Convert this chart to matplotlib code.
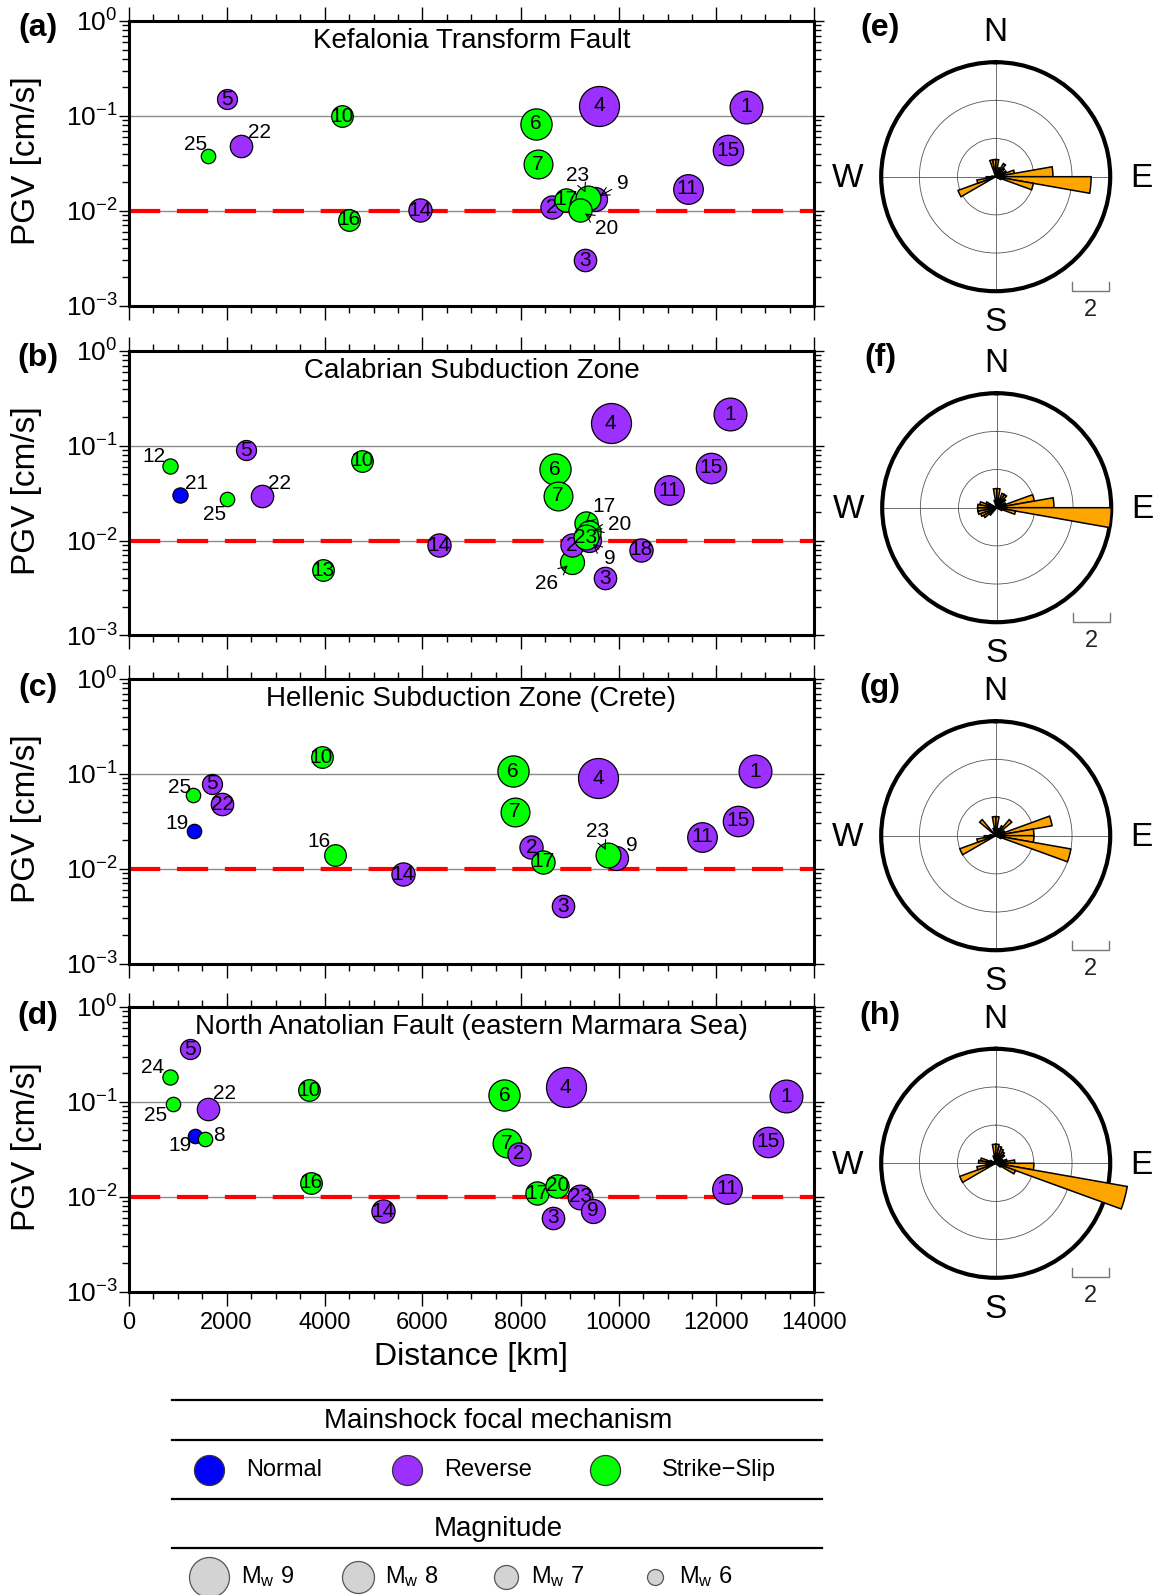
"""PGV versus distance for four fault zones, with rose diagrams"""
import matplotlib.pyplot as plt
import numpy as np
from matplotlib.ticker import MultipleLocator, LogLocator, NullFormatter

plt.rcParams['font.family'] = ['Liberation Sans', 'DejaVu Sans']
plt.rcParams['mathtext.fontset'] = 'custom'
plt.rcParams['mathtext.rm'] = 'Liberation Sans'
plt.rcParams['mathtext.it'] = 'Liberation Sans:italic'
plt.rcParams['mathtext.default'] = 'regular'

W, H = 1158, 1595

# magnitude of each mainshock, event number = index + 1
event_mw = [8.1, 6.9, 6.8, 9.0, 6.5, 7.9, 7.6, 5.8, 7.0, 6.7,
            7.7, 5.9, 6.7, 6.9, 7.8, 6.7, 6.9, 6.9, 5.8, 6.9,
            5.9, 6.8, 7.1, 5.9, 5.8, 7.0]

# (a) Kefalonia Transform Fault
kef_ids = [25, 5, 22, 10, 16, 14, 6, 7, 2, 17, 9, 23, 20, 3, 4, 11, 15, 1]
kef_dist = [1630, 2000, 2300, 4350, 4500, 5950, 8320, 8360, 8640, 8930,
            9520, 9370, 9220, 9320, 9610, 11410, 12230, 12600]
kef_pgv = [0.038, 0.149, 0.048, 0.099, 0.0080, 0.0101, 0.083, 0.031, 0.0109, 0.0131,
           0.0134, 0.0137, 0.0101, 0.0030, 0.128, 0.0171, 0.0434, 0.125]
kef_mech = ['S', 'R', 'R', 'S', 'S', 'R', 'S', 'S', 'R', 'S',
            'R', 'S', 'S', 'R', 'R', 'R', 'R', 'R']

# (b) Calabrian Subduction Zone
cal_ids = [12, 21, 25, 5, 22, 13, 10, 14, 6, 7, 26, 2, 9, 17, 20, 23, 3, 18, 4, 11, 15, 1]
cal_dist = [850, 1050, 2020, 2400, 2720, 3960, 4760, 6330, 8710, 8760, 9050,
            9050, 9390, 9330, 9390, 9330, 9720, 10450, 9840, 11030, 11890, 12280]
cal_pgv = [0.0615, 0.0306, 0.0275, 0.090, 0.0299, 0.0049, 0.0695, 0.0090, 0.0567, 0.0296, 0.0060,
           0.0089, 0.0101, 0.0154, 0.0124, 0.0108, 0.0040, 0.0080, 0.172, 0.034, 0.0586, 0.216]
cal_mech = ['S', 'N', 'S', 'R', 'R', 'S', 'S', 'R', 'S', 'S', 'S',
            'R', 'R', 'S', 'S', 'S', 'R', 'R', 'R', 'R', 'R', 'R']

# (c) Hellenic Subduction Zone (Crete)
hel_ids = [25, 19, 5, 22, 10, 16, 14, 6, 7, 2, 17, 3, 4, 9, 23, 11, 15, 1]
hel_dist = [1320, 1340, 1700, 1910, 3940, 4220, 5600, 7850, 7890, 8220,
            8450, 8870, 9580, 9950, 9790, 11710, 12440, 12790]
hel_pgv = [0.060, 0.025, 0.079, 0.048, 0.150, 0.0139, 0.0087, 0.107, 0.040, 0.0169,
           0.0119, 0.0040, 0.090, 0.0129, 0.0139, 0.0217, 0.032, 0.107]
hel_mech = ['S', 'N', 'R', 'R', 'S', 'S', 'R', 'S', 'S', 'R',
            'S', 'R', 'R', 'R', 'S', 'R', 'R', 'R']

# (d) North Anatolian Fault (eastern Marmara Sea)
naf_ids = [24, 25, 5, 22, 19, 8, 10, 16, 14, 6, 7, 2, 17, 20, 3, 23, 9, 4, 11, 15, 1]
naf_dist = [840, 900, 1260, 1620, 1360, 1560, 3690, 3730, 5200, 7670, 7720,
            7970, 8330, 8750, 8670, 9220, 9470, 8920, 12220, 13060, 13420]
naf_pgv = [0.182, 0.094, 0.358, 0.084, 0.044, 0.041, 0.133, 0.0141, 0.0070, 0.118, 0.0366,
           0.0282, 0.0109, 0.0130, 0.0060, 0.0100, 0.0071, 0.1425, 0.0121, 0.0381, 0.114]
naf_mech = ['S', 'S', 'R', 'R', 'N', 'S', 'S', 'S', 'R', 'S', 'S',
            'R', 'S', 'S', 'R', 'R', 'R', 'R', 'R', 'R', 'R']

# rose diagrams: 36 azimuth bins of 10 deg starting at N, clockwise
rose_e = [0.9, 0.3, 0.5, 0.8, 0.6, 0.3, 0.6, 1.0, 3.0, 5.0, 2.0, 0.3,
          0, 0, 0, 0, 0, 0, 0, 0, 0, 0, 0, 0,
          2.1, 1.0, 0.5, 0.2, 0, 0, 0, 0, 0, 0, 0.9, 0.9]
rose_f = [1.0, 0.5, 0.8, 0.8, 0.6, 0.3, 0.5, 2.0, 3.0, 6.0, 1.0, 0.3,
          0, 0, 0, 0, 0, 0, 0, 0, 0, 0, 0.5, 0.8,
          0.9, 1.0, 1.0, 1.0, 0.9, 0.6, 0, 0, 0, 0, 0.4, 1.0]
rose_g = [1.0, 0.3, 0.4, 0.6, 1.1, 0.3, 0.5, 3.0, 2.0, 2.0, 4.0, 0.3,
          0, 0, 0, 0, 0, 0, 0, 0, 0, 0, 0, 0,
          2.0, 1.0, 0.6, 0.3, 0, 0, 0, 1.1, 0, 0, 0.4, 1.0]
rose_h = [1.0, 0.9, 0.8, 0.7, 0.6, 0.3, 0.4, 0.6, 1.0, 2.0, 7.0, 1.1,
          0.3, 0, 0, 0, 0, 0, 0, 0, 0, 0, 0, 0,
          2.0, 1.0, 0.5, 0.9, 0.8, 0.3, 0, 0, 0, 0, 0.4, 1.0]

mech_names = ['Normal', 'Reverse', 'Strike\u2212Slip']
legend_mw = [9, 8, 7, 6]

MECH_COLORS = {'N': '#0000ff', 'R': '#9b30ff', 'S': '#00ff00'}

# label placement (offset in points, arrow) for numbers drawn outside the circle
LABEL_OFFSETS = [
    {25: (-9, 8, False), 22: (13, 10, False), 23: (-7, 16, True),
     9: (20, 11, True), 20: (19, -13, True)},
    {12: (-12, 7, False), 21: (12, 8, False), 25: (-9, -11, False), 22: (13, 9, False),
     17: (13, 12, True), 20: (22, 5, True), 9: (15, -13, True), 26: (-18, -16, True)},
    {25: (-10, 5, False), 19: (-12, 5, False), 16: (-12, 10, False),
     23: (-8, 17, True), 9: (11, 9, False)},
    {24: (-12, 7, False), 25: (-12, -8, False), 22: (12, 11, False),
     19: (-11, -7, False), 8: (10, 2, False)},
]


def marker_size(mw):
    """scatter size (points^2) for a magnitude"""
    d_px = 8 * mw - 32
    return (d_px * 0.72) ** 2


def fig_rect(x0, y0, x1, y1):
    """pixel box with top-left origin -> figure fraction rect"""
    return [x0 / W, 1 - y1 / H, (x1 - x0) / W, (y1 - y0) / H]


def pgv_panel(ax, title, ids, dist, pgv, mech, offsets, show_x):
    ax.set_xlim(0, 14000)
    ax.set_yscale('log')
    ax.set_ylim(1e-3, 1)
    ax.axhline(0.1, color='#8c8c8c', lw=1.0, zorder=1)
    ax.axhline(0.01, color='#8c8c8c', lw=1.0, zorder=1)
    ax.axhline(0.01, color='red', lw=3, dashes=(7.5, 4), zorder=2)
    for k, (i, x, y, m) in enumerate(zip(ids, dist, pgv, mech)):
        z = 3 + 2 * k
        ax.scatter(x, y, s=marker_size(event_mw[i - 1]), c=MECH_COLORS[m],
                   edgecolors='black', linewidths=0.9, zorder=z)
        if i in offsets:
            dx, dy, arrow = offsets[i]
            props = None
            if arrow:
                props = dict(arrowstyle='->', lw=0.8, color='black',
                             shrinkA=2, shrinkB=4)
            ax.annotate(str(i), (x, y), xytext=(dx, dy), textcoords='offset points',
                        ha='center', va='center', fontsize=15, zorder=200,
                        arrowprops=props)
        else:
            ax.text(x, y, str(i), ha='center', va='center', fontsize=15, zorder=z + 1)
    ax.text(0.5, 0.93, title, transform=ax.transAxes, ha='center', va='center',
            fontsize=20, zorder=300)
    ax.xaxis.set_major_locator(MultipleLocator(2000))
    ax.xaxis.set_minor_locator(MultipleLocator(500))
    ax.yaxis.set_major_locator(LogLocator(base=10, numticks=10))
    ax.yaxis.set_minor_locator(LogLocator(base=10, subs=np.arange(2, 10), numticks=10))
    ax.yaxis.set_minor_formatter(NullFormatter())
    ax.tick_params(which='both', direction='out', top=True, right=True,
                   labelbottom=show_x, labelsize=19, width=1.0)
    ax.tick_params(axis='x', labelsize=17, pad=5)
    ax.tick_params(which='major', length=10)
    ax.tick_params(which='minor', length=5)
    ax.tick_params(axis='y', which='major', length=7, pad=1)
    for sp in ax.spines.values():
        sp.set_linewidth(2.2)


def rose_panel(ax, values):
    vals = np.array(values, dtype=float)
    theta = np.radians(np.arange(36) * 10 + 5)
    keep = vals > 0
    ax.set_theta_zero_location('N')
    ax.set_theta_direction(-1)
    ax.set_axisbelow(True)
    ax.bar(theta[keep], vals[keep], width=np.radians(10), color='#ffa500',
           edgecolor='black', linewidth=1.1, clip_on=False, zorder=3)
    ax.set_ylim(0, 6)
    ax.set_xticks(np.radians([0, 90, 180, 270]))
    ax.set_xticklabels([])
    ax.set_yticks([2, 4])
    ax.set_yticklabels([])
    ax.grid(True, color='#555555', lw=0.6)
    ax.spines['polar'].set_linewidth(3)


fig = plt.figure(figsize=(W / 100, H / 100), dpi=100)

panel_tops = [21, 351, 679, 1007]
panel_h = 284.5
left, right = 128.5, 814.5
titles = ['Kefalonia Transform Fault', 'Calabrian Subduction Zone',
          'Hellenic Subduction Zone (Crete)', 'North Anatolian Fault (eastern Marmara Sea)']
panel_data = [(kef_ids, kef_dist, kef_pgv, kef_mech),
              (cal_ids, cal_dist, cal_pgv, cal_mech),
              (hel_ids, hel_dist, hel_pgv, hel_mech),
              (naf_ids, naf_dist, naf_pgv, naf_mech)]

for n, (top, title, data) in enumerate(zip(panel_tops, titles, panel_data)):
    ax = fig.add_axes(fig_rect(left, top, right, top + panel_h))
    pgv_panel(ax, title, *data, LABEL_OFFSETS[n], show_x=(n == 3))

rose_centers = [(995.7, 176.7), (996.7, 507.7), (995.7, 835.7), (995.7, 1163.3)]
R = 114.5
for (cx, cy), vals in zip(rose_centers, [rose_e, rose_f, rose_g, rose_h]):
    pax = fig.add_axes(fig_rect(cx - R, cy - R, cx + R, cy + R), projection='polar')
    rose_panel(pax, vals)

# overlay in pixel coordinates for labels and the legend
ov = fig.add_axes([0, 0, 1, 1], zorder=10)
ov.set_xlim(0, W)
ov.set_ylim(H, 0)
ov.axis('off')
ov.patch.set_alpha(0)

label_rows = [28, 358, 688, 1016]
for n, y in enumerate(label_rows):
    ov.text(38, y, '(%s)' % 'abcd'[n], ha='center', va='center', fontsize=23, fontweight='bold')
    ov.text(880, y, '(%s)' % 'efgh'[n], ha='center', va='center', fontsize=23, fontweight='bold')
    ov.text(27, panel_tops[n] + panel_h / 2 - 3, 'PGV [cm/s]', rotation=90,
            ha='center', va='center', fontsize=24)

for cx, cy in rose_centers:
    ov.text(cx, cy - 144, 'N', ha='center', va='center', fontsize=24)
    ov.text(cx, cy + 146, 'S', ha='center', va='center', fontsize=24)
    ov.text(cx + 146, cy + 2, 'E', ha='center', va='center', fontsize=24)
    ov.text(cx - 148, cy + 2, 'W', ha='center', va='center', fontsize=24)
    ov.plot([cx + 76, cx + 76, cx + 113, cx + 113],
            [cy + 105, cy + 114, cy + 114, cy + 105], color='#777777', lw=1.0)
    ov.text(cx + 94.5, cy + 133, '2', ha='center', va='center', fontsize=17, color='#222222')

ov.text(471, 1357, 'Distance [km]', ha='center', va='center', fontsize=23)

# legend
for y in [1400, 1440, 1499, 1548]:
    ov.plot([172, 822], [y, y], color='black', lw=1.6)
ov.text(498, 1421, 'Mainshock focal mechanism', ha='center', va='center', fontsize=20)
ov.text(498, 1529, 'Magnitude', ha='center', va='center', fontsize=20)

for name, key, cx, tx in zip(mech_names, ['N', 'R', 'S'], [209, 407, 605], [246, 444, 662]):
    ov.scatter(cx, 1470, s=(30 * 0.72) ** 2, c=MECH_COLORS[key], edgecolors='#333333',
               linewidths=0.9, clip_on=False)
    ov.text(tx, 1470, name, ha='left', va='center', fontsize=17)

for mw, cx, tx in zip(legend_mw, [209, 358, 506, 655], [241, 385, 531, 679]):
    ov.scatter(cx, 1577, s=marker_size(mw), c='#d3d3d3', edgecolors='#555555',
               linewidths=0.9, clip_on=False)
    ov.text(tx, 1577, r'M$_{w}$ %d' % mw, ha='left', va='center', fontsize=17)

fig.savefig('out.png', dpi=100)
